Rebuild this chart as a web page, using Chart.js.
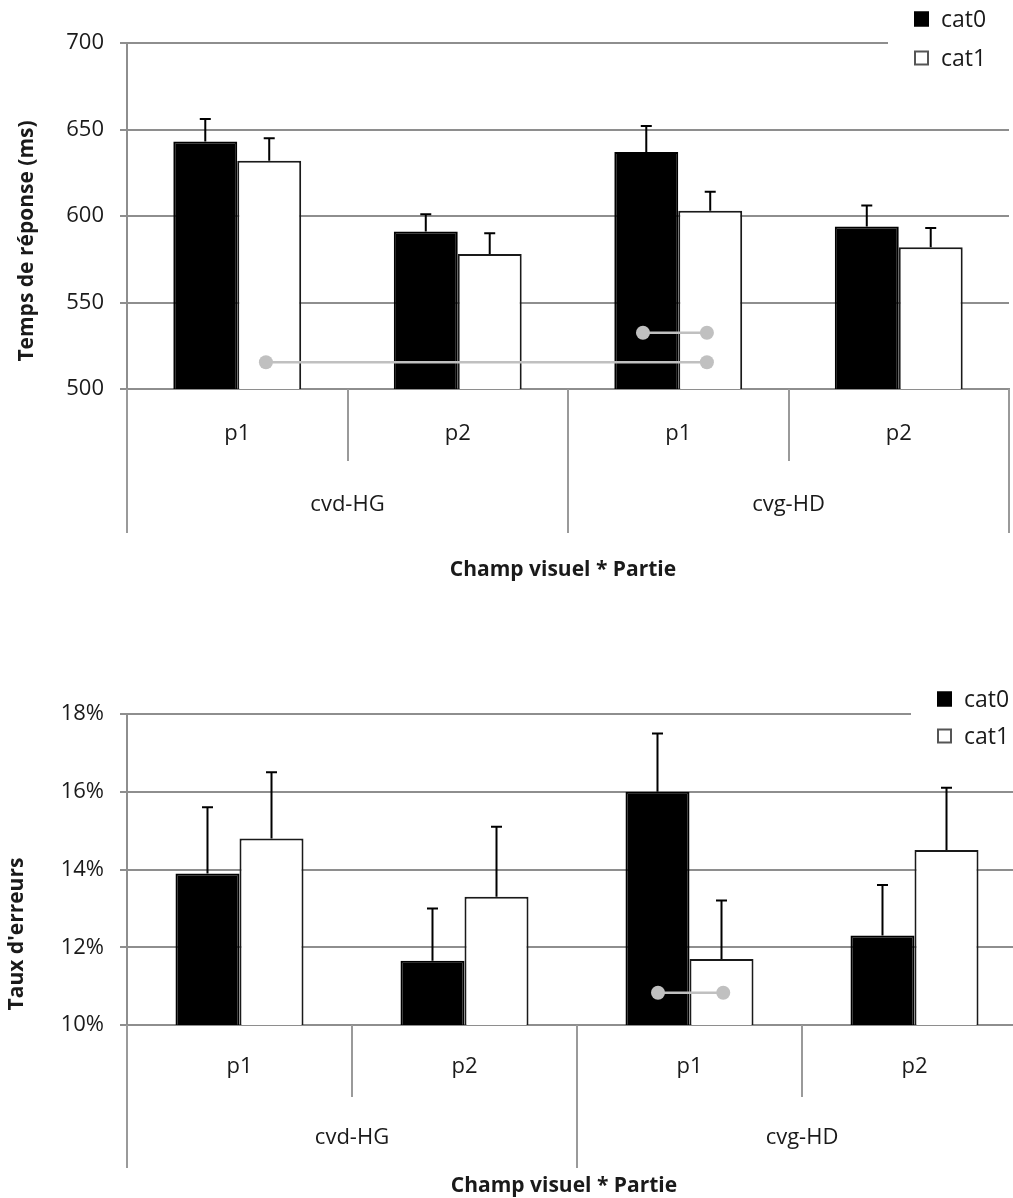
<!DOCTYPE html>
<html>
<head>
<meta charset="utf-8">
<style>
  html, body { margin: 0; padding: 0; background: #fff; overflow: hidden; }
  .wrap { position: absolute; left: 0; }
  #rtBox { top: 0; width: 1013px; height: 620px; }
  #errBox { top: 620px; width: 1035px; height: 578px; }
</style>
</head>
<body>
<div class="wrap" id="rtBox"><canvas id="rtChart"></canvas></div>
<div class="wrap" id="errBox"><canvas id="errChart"></canvas></div>
<script src="https://cdn.jsdelivr.net/npm/chart.js@4.4.0/dist/chart.umd.min.js"></script>
<script>
/* data */
const parts = ['p1', 'p2', 'p1', 'p2'];
const fields = ['cvd-HG', 'cvg-HD'];
const seriesNames = ['cat0', 'cat1'];

// response time (ms), upper error bar length
const rtCat0 = [643, 591, 637, 594];
const rtCat0Err = [13, 10, 15, 12];
const rtCat1 = [632, 578, 603, 582];
const rtCat1Err = [13, 12, 11, 11];
const rtTicks = [500, 550, 600, 650, 700];
// grey comparison markers (x in category index units)
const rtSigLong = [{x: 0.13, y: 515.5}, {x: 2.13, y: 515.5}];
const rtSigShort = [{x: 1.84, y: 532.5}, {x: 2.13, y: 532.5}];

// error rate (%)
const errCat0 = [13.9, 11.65, 16.0, 12.3];
const errCat0Err = [1.7, 1.35, 1.5, 1.3];
const errCat1 = [14.8, 13.3, 11.7, 14.5];
const errCat1Err = [1.7, 1.8, 1.5, 1.6];
const errTicks = [10, 12, 14, 16, 18];
const errSig = [{x: 1.86, y: 10.83}, {x: 2.15, y: 10.83}];

const FONT = "'Open Sans', sans-serif";
const ink = '#1a1a1a';
const axisGray = '#8e8e8e';
Chart.defaults.font.family = FONT;

/* error bars, grey markers, custom legend, two level x axis, axis titles */
const decor = {
  id: 'decor',
  afterDatasetsDraw(chart, args, o) {
    const ctx = chart.ctx, y = chart.scales.y, x = chart.scales.x;
    ctx.save();
    // grey markers
    ctx.strokeStyle = '#c0c0c0';
    ctx.fillStyle = '#c0c0c0';
    ctx.lineWidth = 2.5;
    o.sig.forEach(s => {
      const pts = s.map(p => [x.getPixelForValue(p.x), y.getPixelForValue(p.y)]);
      ctx.beginPath();
      ctx.moveTo(pts[0][0], pts[0][1]);
      pts.slice(1).forEach(p => ctx.lineTo(p[0], p[1]));
      ctx.stroke();
      pts.forEach(p => { ctx.beginPath(); ctx.arc(p[0], p[1], 7, 0, Math.PI * 2); ctx.fill(); });
    });
    // error bars
    ctx.strokeStyle = '#000';
    ctx.lineWidth = 2;
    chart.data.datasets.forEach((ds, di) => {
      if (!ds.errors) return;
      chart.getDatasetMeta(di).data.forEach((bar, i) => {
        const top = y.getPixelForValue(ds.data[i] + ds.errors[i]);
        ctx.beginPath();
        ctx.moveTo(bar.x, bar.y);
        ctx.lineTo(bar.x, top);
        ctx.moveTo(bar.x - 5.5, top);
        ctx.lineTo(bar.x + 5.5, top);
        ctx.stroke();
      });
    });
    ctx.restore();
  },
  afterDraw(chart, args, o) {
    const ctx = chart.ctx, ca = chart.chartArea, x = chart.scales.x;
    const n = chart.data.labels.length;
    const per = n / fields.length;
    ctx.save();

    // legend box over the top gridline
    ctx.fillStyle = '#fff';
    ctx.fillRect(o.legX0, 0, chart.width - o.legX0, o.legBottom);
    ctx.font = '23px ' + FONT;
    ctx.textBaseline = 'middle';
    ctx.textAlign = 'left';
    chart.data.datasets.forEach((d, k) => {
      const cy = o.legY + k * o.legGap;
      ctx.fillStyle = d.backgroundColor;
      ctx.fillRect(o.legSq, cy - 7.5, 15, 15);
      ctx.strokeStyle = k === 0 ? '#000' : '#555';
      ctx.lineWidth = 2;
      ctx.strokeRect(o.legSq + 1, cy - 6.5, 13, 13);
      ctx.fillStyle = ink;
      ctx.fillText(d.label, o.legSq + 27, cy + 1);
    });

    // category dividers
    ctx.strokeStyle = '#9a9a9a';
    ctx.lineWidth = 2;
    for (let i = 0; i <= n; i++) {
      const px = Math.round(x.getPixelForValue(i - 0.5));
      const len = i % per === 0 ? o.longTick : o.shortTick;
      ctx.beginPath();
      ctx.moveTo(px, ca.bottom);
      ctx.lineTo(px, ca.bottom + len);
      ctx.stroke();
    }

    // labels
    ctx.fillStyle = ink;
    ctx.textAlign = 'center';
    ctx.font = '22px ' + FONT;
    chart.data.labels.forEach((l, i) => ctx.fillText(l, x.getPixelForValue(i), ca.bottom + o.partY));
    fields.forEach((f, g) => {
      ctx.fillText(f, x.getPixelForValue(g * per + (per - 1) / 2), ca.bottom + o.fieldY);
    });

    // axis titles
    ctx.font = 'bold 21px ' + FONT;
    ctx.fillText(o.xTitle, (ca.left + ca.right) / 2 + o.xTitleDx, ca.bottom + o.xTitleY);
    ctx.translate(o.yTitleX, o.yTitleY);
    ctx.rotate(-Math.PI / 2);
    ctx.fillText(o.yTitle, 0, 0);
    ctx.restore();
  }
};

function makeChart(id, c) {
  return new Chart(id, {
    type: 'bar',
    data: {
      labels: parts,
      datasets: [
        {label: seriesNames[0], data: c.a, errors: c.aErr,
         backgroundColor: '#000', borderColor: '#000', borderWidth: 2},
        {label: seriesNames[1], data: c.b, errors: c.bErr,
         backgroundColor: '#fff', borderColor: '#1a1a1a', borderWidth: 2}
      ]
    },
    options: {
      responsive: true,
      maintainAspectRatio: false,
      animation: false,
      categoryPercentage: c.catPct,
      barPercentage: 1,
      layout: {padding: {top: c.top, right: c.right, left: 0, bottom: 0}},
      plugins: {legend: {display: false}, tooltip: {enabled: false}, decor: c.decor},
      scales: {
        x: {
          type: 'category', offset: true,
          grid: {display: false},
          border: {display: true, color: axisGray, width: 2},
          ticks: {display: false},
          afterFit(s) { s.height = c.xh; }
        },
        y: {
          min: c.ticks[0], max: c.ticks[c.ticks.length - 1],
          afterBuildTicks(s) { s.ticks = c.ticks.map(v => ({value: v})); },
          ticks: {font: {size: 22}, color: ink, padding: 16, callback: c.fmt},
          grid: {color: axisGray, lineWidth: 2, tickLength: 7},
          border: {color: axisGray, width: 2},
          afterFit(s) { s.width = 127; }
        }
      }
    },
    plugins: [decor]
  });
}

const rtChart = makeChart('rtChart', {
  a: rtCat0, aErr: rtCat0Err, b: rtCat1, bErr: rtCat1Err,
  ticks: rtTicks, catPct: 0.58,
  top: 43, right: 4, xh: 231, fmt: v => v,
  decor: {sig: [rtSigLong, rtSigShort],
          legX0: 888, legBottom: 78, legSq: 914, legY: 19, legGap: 39,
          shortTick: 72, longTick: 144, partY: 45, fieldY: 116,
          xTitle: 'Champ visuel * Partie', xTitleY: 181, xTitleDx: -5,
          yTitle: 'Temps de réponse (ms)', yTitleX: 27, yTitleY: 241}
});

const errChart = makeChart('errChart', {
  a: errCat0, aErr: errCat0Err, b: errCat1, bErr: errCat1Err,
  ticks: errTicks, catPct: 0.569,
  top: 94, right: 8, xh: 173, fmt: v => v + '%',
  decor: {sig: [errSig],
          legX0: 911, legBottom: 136, legSq: 937, legY: 79, legGap: 37,
          shortTick: 72, longTick: 143, partY: 42, fieldY: 113,
          xTitle: 'Champ visuel * Partie', xTitleY: 161, xTitleDx: -13,
          yTitle: "Taux d'erreurs", yTitleX: 17, yTitleY: 314}
});
</script>
</body>
</html>
